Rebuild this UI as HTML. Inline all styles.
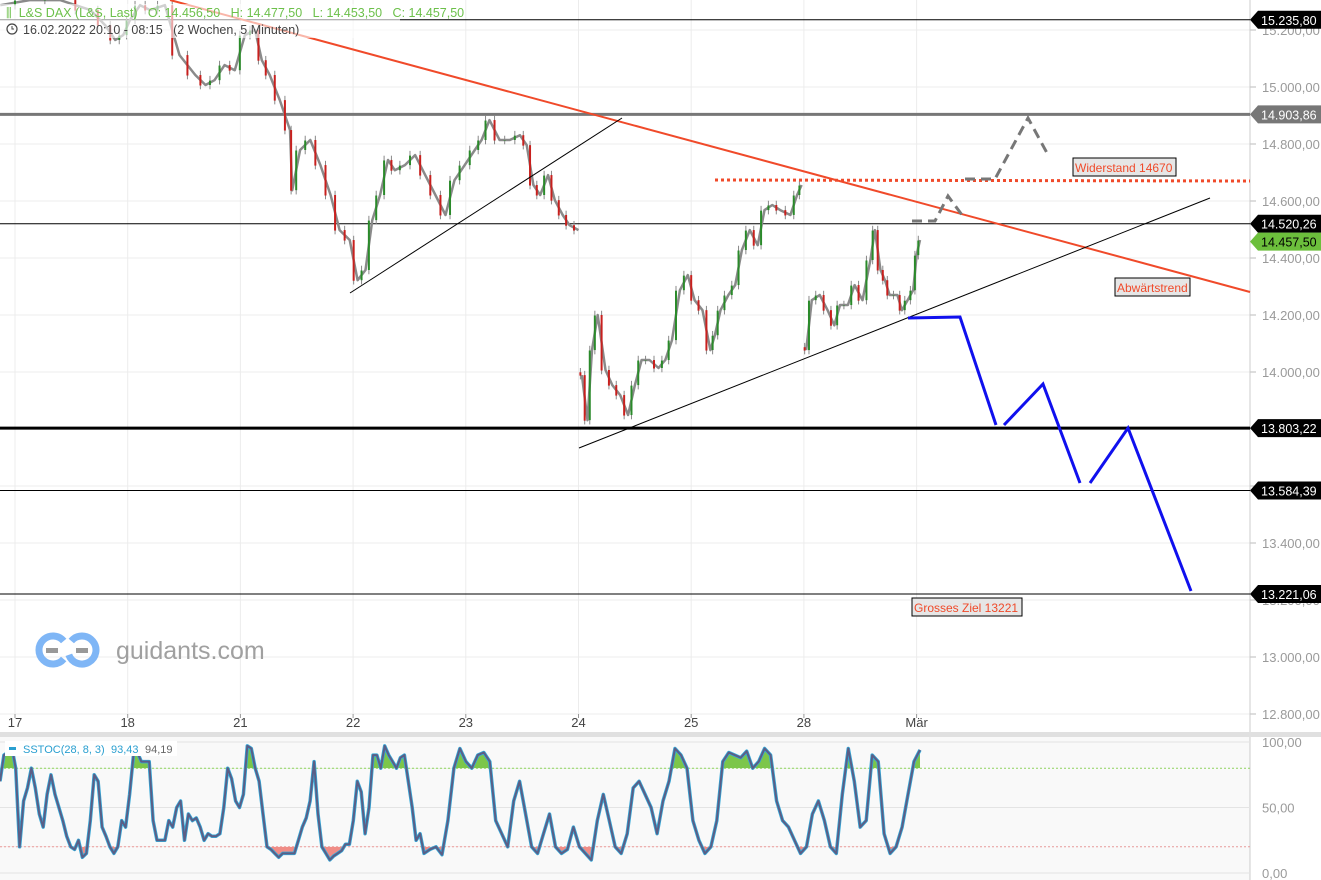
<!DOCTYPE html>
<html><head><meta charset="utf-8"><style>
body{margin:0;background:#fff;font-family:"Liberation Sans",sans-serif;}
svg{display:block}
text{white-space:pre}
</style></head><body>
<svg id="c" width="1321" height="880" xmlns="http://www.w3.org/2000/svg"></svg>
<script>
const dayLabels=["17","18","21","22","23","24","25","28","Mär"];
const priceTicks=[15200,15000,14800,14600,14400,14200,14000,13800,13600,13400,13200,13000,12800];
const priceTickLabels=["15.200,00","15.000,00","14.800,00","14.600,00","14.400,00","14.200,00","14.000,00","13.800,00","13.600,00","13.400,00","13.200,00","13.000,00","12.800,00"];
const seg1T=[-0.13,0.13,0.40,0.67,0.80,0.89,0.96,1.02,1.11,1.20,1.33,1.46,1.60,1.69,1.77,1.86,1.95,2.04,2.13,2.19,2.26,2.35,2.44,2.46,2.53,2.62,2.71,2.80,2.88,2.97,3.04,3.11,3.17,3.24,3.31,3.37,3.46,3.55,3.64,3.73,3.82,3.90,3.99,4.08,4.14,4.21,4.30,4.39,4.48,4.54,4.60,4.66,4.73,4.79,4.86,4.92,5.00];
const seg1P=[15287,15305,15305,15270,15217,15165,15182,15235,15287,15270,15287,15112,15042,15007,15024,15077,15059,15182,15200,15094,15042,14954,14849,14638,14779,14814,14726,14621,14498,14463,14322,14358,14533,14621,14744,14708,14726,14761,14691,14621,14551,14673,14726,14779,14814,14884,14814,14814,14831,14796,14656,14621,14691,14603,14551,14515,14498];
const seg2T=[5.03,5.08,5.12,5.17,5.24,5.30,5.37,5.44,5.50,5.56,5.63,5.71,5.77,5.83,5.90,5.97,6.03,6.10,6.17,6.21,6.26,6.33,6.39,6.45,6.52,6.59,6.65,6.72,6.79,6.88,6.94,6.98];
const seg2P=[13989,13831,14077,14200,14007,13954,13919,13849,13954,14042,14042,14014,14042,14112,14287,14340,14252,14217,14077,14129,14217,14270,14305,14428,14498,14445,14568,14586,14568,14551,14621,14656];
const seg3T=[7.02,7.07,7.14,7.21,7.27,7.32,7.39,7.45,7.52,7.59,7.63,7.68,7.72,7.76,7.83,7.87,7.92,7.97,8.00,8.03];
const seg3P=[14077,14252,14270,14217,14164,14235,14235,14305,14252,14393,14498,14358,14322,14270,14270,14217,14252,14287,14410,14463];
const levels=[15235.80,14903.86,14520.26,13803.22,13584.39,13221.06];
const levelLabels=["15.235,80","14.903,86","14.520,26","13.803,22","13.584,39","13.221,06"];
const lastPrice=14457.50;
const stochA=[70,90,92,96,80,20,55,65,80,65,45,35,60,75,60,50,40,28,20,18,25,12,15,40,75,70,35,28,20,15,20,40,35,60,90,92,85,85,85,40,25,25,25,40,35,50,55,25,45,40,42,35,25,30,28,28,30,50,80,72,55,50,60,97,95,80,70,45,20,18,15,12,15,15,15,15,25,35,42,55,85,45,20,15,10,13,15,17,22,22,40,70,62,30,50,90,90,80,97,90,85,80,88,90,70,50,25,30,15];
const stochB=[18,20,14,40,80,95,85,80,90,92,85,40,30,20,55,70,45,20,15,30,45,20,15,18,35,20,15,10,40,60,40,20,15,30,65,70,60,50,30,55,70,95,90,80,40,25,15,20,40,85,92,90,88,93,80,85,95,90,55,40,35,25,15,20,45,55,40,20,15,60,95,70,35,40,90,85,30,15,20,35,60,85,94];
const stochTicks=[100,50,0];

const S=document.getElementById('c');const NS='http://www.w3.org/2000/svg';
function el(tag,at,parent){const e=document.createElementNS(NS,tag);for(const k in at)e.setAttribute(k,at[k]);(parent||S).appendChild(e);return e;}
const xS=t=>15+t*112.7;
const yP=p=>87+(15000-p)*0.285;
const yS=v=>873-v*1.31;

for(let i=0;i<dayLabels.length;i++){const x=xS(i);
 const g=el('line',{x1:x,x2:x,y1:0,y2:714,stroke:'#ececec'});
 
 el('line',{x1:x,x2:x,y1:737,y2:880,stroke:'#e4e4e4'});}
priceTicks.forEach((p,i)=>{const y=yP(p);
 const g=el('line',{x1:0,x2:1250,y1:y,y2:y,stroke:'#ececec'});
 
 el('line',{x1:1250,x2:1256,y1:y,y2:y,stroke:'#bbb'});
 const t=el('text',{x:1262,y:y+5,'font-size':13,fill:'#9a9a9a'});t.textContent=priceTickLabels[i];
 });
el('line',{x1:1250,x2:1250,y1:0,y2:733,stroke:'#ccc'});
dayLabels.forEach((d,i)=>{const x=xS(i);
 el('line',{x1:x,x2:x,y1:714,y2:718,stroke:'#999'});
 const t=el('text',{x:x,y:727,'font-size':13,fill:'#444','text-anchor':'middle'});t.textContent=d;
 });
el('rect',{x:0,y:732,width:1321,height:5,fill:'#e0e0e0'});

const lg=el('g',{});
el('path',{d:'M63.7 641 A14 14 0 1 0 63.7 659',fill:'none',stroke:'#7fb6f6','stroke-width':7},lg);
el('path',{d:'M71.3 641 A14 14 0 1 1 68.8 654.8',fill:'none',stroke:'#7fb6f6','stroke-width':7},lg);
el('rect',{x:46,y:648,width:12,height:5,fill:'#999'},lg);el('rect',{x:76,y:648,width:12,height:5,fill:'#999'},lg);
const lt=el('text',{x:116,y:659,'font-size':25,fill:'#a0a0a0'},lg);lt.textContent='guidants.com';

levels.forEach((p,i)=>{const y=yP(p);const thick=(i==1||i==3)?3:1;const col=i==1?'#777':'#000';
 const l=el('line',{x1:0,x2:1250,y1:y,y2:y,stroke:col,'stroke-width':thick});
 
 el('polygon',{points:`1250,${y} 1258,${y-9} 1321,${y-9} 1321,${y+9} 1258,${y+9}`,fill:col});
 const t=el('text',{x:1261,y:y+5,'font-size':12.5,fill:'#fff'});t.textContent=levelLabels[i];
 });
{const y=yP(lastPrice);
 el('polygon',{points:`1250,${y} 1258,${y-9} 1321,${y-9} 1321,${y+9} 1258,${y+9}`,fill:'#6cbf3c'});
 const t=el('text',{x:1261,y:y+5,'font-size':12.5,fill:'#000'});t.textContent='14.457,50';
 }

[[seg1T,seg1P],[seg2T,seg2P],[seg3T,seg3P]].forEach(([T,P])=>{
 const pl=el('polyline',{points:T.map((t,i)=>xS(t).toFixed(1)+','+yP(P[i]).toFixed(1)).join(' '),fill:'none',stroke:'#8a8a8a','stroke-width':2.5,'stroke-linejoin':'round'});
 
 for(let i=0;i<T.length;i++){
  const o=i?P[i-1]:P[i]+10,c=P[i];const x=xS(T[i]);
  const x0=i?xS(T[i-1]):x-3;const xm=(x0+x)/2;
  const hi=Math.max(o,c)+15,lo=Math.min(o,c)-15;
  const w=el('line',{x1:xm,x2:xm,y1:yP(hi),y2:yP(lo),stroke:'#888','stroke-width':1});
  
  const b=el('line',{x1:xm,x2:xm,y1:yP(o),y2:yP(c)+0.5,stroke:c>=o?'#2a8a2a':'#c8201e','stroke-width':2});
  
 }});

function ln(pts,st,name){const p=el('polyline',Object.assign({points:pts,fill:'none'},st));}
ln('170,0 1250,292',{stroke:'#f04a2a','stroke-width':2},'downtrend-line');
ln('715,180 1250,181',{stroke:'#f04a2a','stroke-width':3,'stroke-dasharray':'3,3'},'resistance-line');
ln('350,293 622,118',{stroke:'#000','stroke-width':1},'support-trendline-1');
ln('579,448 1210,198',{stroke:'#000','stroke-width':1},'support-trendline-2');
ln('908,318 960,317 996,425',{stroke:'#1010ee','stroke-width':3},'bear-scenario');
ln('1004,425 1043,384 1080,483',{stroke:'#1010ee','stroke-width':3},'bear-scenario-2');
ln('1090,483 1128,428 1191,591',{stroke:'#1010ee','stroke-width':3},'bear-scenario-3');
ln('912,221 935,221 948,196 962,215',{stroke:'#777','stroke-width':3,'stroke-dasharray':'10,6'},'bull-scenario');
ln('965,179 995,179 1028,118 1047,153',{stroke:'#777','stroke-width':3,'stroke-dasharray':'10,6'},'bull-scenario-2');
function box(x,y,w,txt,name){const g=el('g',{});
 el('rect',{x:x,y:y,width:w,height:18,fill:'#e6e6e6',stroke:'#000'},g);
 const t=el('text',{x:x+2,y:y+14,'font-size':12,fill:'#f04a2a'},g);t.textContent=txt;}
box(1073,158,103,'Widerstand 14670','resistance-label');
box(1115,278,75,'Abwärtstrend','downtrend-label');
box(912,598,110,'Grosses Ziel 13221','target-label');

const hd=el('g',{});
el('rect',{x:0,y:4,width:400,height:34,fill:'#fff','fill-opacity':0.6},hd);
const h1=el('text',{x:6,y:17,'font-size':12.5,fill:'#6cc04a'},hd);h1.textContent='⫼  L&S DAX (L&S, Last)   O: 14.456,50   H: 14.477,50   L: 14.453,50   C: 14.457,50';
el('circle',{cx:12,cy:29,r:5,fill:'none',stroke:'#444','stroke-width':1.2},hd);
el('path',{d:'M12 26 V29 H14',fill:'none',stroke:'#444'},hd);
const h2=el('text',{x:23,y:34,'font-size':12.5,fill:'#444'},hd);h2.textContent='16.02.2022 20:10 - 08:15   (2 Wochen, 5 Minuten)';

el('rect',{x:0,y:737,width:1250,height:143,fill:'#f9f9f9'});
el('line',{x1:1250,x2:1250,y1:737,y2:880,stroke:'#ccc'});
stochTicks.forEach(v=>{const y=yS(v);el('line',{x1:0,x2:1250,y1:y,y2:y,stroke:'#e4e4e4'});
 const t=el('text',{x:1262,y:y+5,'font-size':13,fill:'#9a9a9a'});t.textContent=v+',00';
 });
el('line',{x1:0,x2:1250,y1:yS(80),y2:yS(80),stroke:'#8fd35f','stroke-dasharray':'2,2'});
el('line',{x1:0,x2:1250,y1:yS(20),y2:yS(20),stroke:'#e89a9a','stroke-dasharray':'2,2'});
const sv=stochA.concat(stochB);
const sx=i=>i<stochA.length? i*424/(stochA.length-1) : 430+(i-stochA.length)*(920-430)/(stochB.length-1);
const pts=sv.map((v,i)=>sx(i).toFixed(1)+','+yS(v).toFixed(1)).join(' ');
const defs=el('defs',{});
const c1=el('clipPath',{id:'above'},defs);el('rect',{x:0,y:0,width:1250,height:yS(80)},c1);
const c2=el('clipPath',{id:'below'},defs);el('rect',{x:0,y:yS(20),width:1250,height:200},c2);
const ga=el('polygon',{points:`0,${yS(80)} ${pts} 920,${yS(80)}`,fill:'#7cc64a','clip-path':'url(#above)'});

const gb=el('polygon',{points:`0,${yS(20)} ${pts} 920,${yS(20)}`,fill:'#f08c86','clip-path':'url(#below)'});

const sl1=el('polyline',{points:pts,fill:'none',stroke:'#35a8d8','stroke-width':3.5,'stroke-linejoin':'round'});

const sl2=el('polyline',{points:pts,fill:'none',stroke:'#5b5e86','stroke-width':2,'stroke-linejoin':'round'});

const sg=el('g',{});
el('rect',{x:5,y:741,width:172,height:15,fill:'#fff'},sg);
el('rect',{x:9,y:747,width:7,height:3,fill:'#2a9fd0'},sg);
const st=el('text',{x:23,y:753,'font-size':11,fill:'#2a9fd0'},sg);st.textContent='SSTOC(28, 8, 3)';
const st1=el('text',{x:111,y:753,'font-size':11,fill:'#2a9fd0'},sg);st1.textContent='93,43';
const st2=el('text',{x:145,y:753,'font-size':11,fill:'#666'},sg);st2.textContent='94,19';
</script>
</body></html>
